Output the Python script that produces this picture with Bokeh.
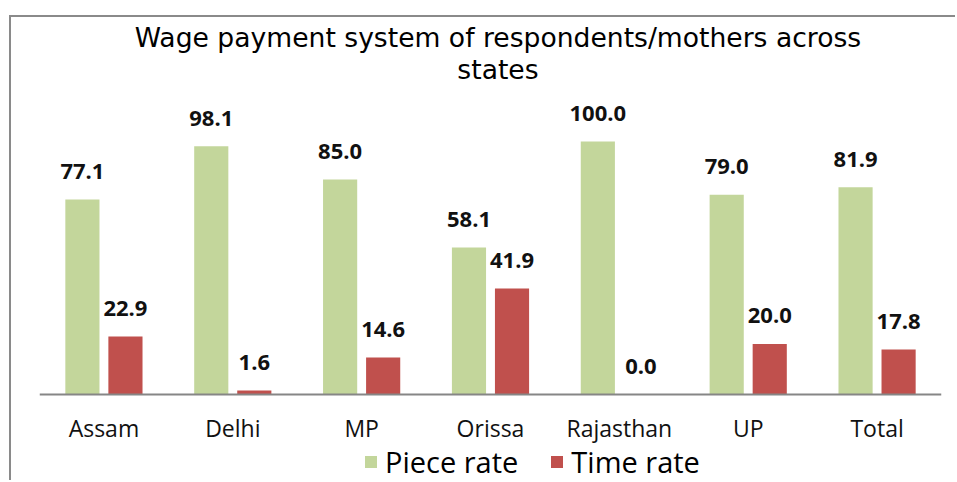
from bokeh.plotting import figure
from bokeh.models import ColumnDataSource, Label, Legend, LegendItem, FactorRange, Span
from bokeh.transform import dodge
from bokeh.core.properties import value
from bokeh.embed import file_html
from bokeh.resources import INLINE

states = ["Assam", "Delhi", "MP", "Orissa", "Rajasthan", "UP", "Total"]
piece_rate = [77.1, 98.1, 85.0, 58.1, 100.0, 79.0, 81.9]
time_rate = [22.9, 1.6, 14.6, 41.9, 0.0, 20.0, 17.8]
series_names = ["Piece rate", "Time rate"]
title_lines = ["Wage payment system of respondents/mothers across", "states"]

GREEN = "#C3D69B"
RED = "#C0504D"

src = ColumnDataSource(dict(
    state=states,
    piece=piece_rate,
    time=time_rate,
    zero=[0.0] * len(states),
    piece_lbl=["%.1f" % v for v in piece_rate],
    time_lbl=["%.1f" % v for v in time_rate],
))

PX = 2.53            # pixels per unit
Y_END = 377 / PX
Y_START = -88 / PX
p = figure(
    x_range=FactorRange(*states, range_padding=0),
    y_range=(Y_START, Y_END),
    width=946, height=465,
    output_backend="svg", toolbar_location=None,
    min_border_left=28, min_border_right=16, min_border_top=0, min_border_bottom=0,
    x_axis_location=None, y_axis_location=None,
)
p.styles = {
    "margin-left": "9px", "margin-top": "15px",
    "border-left": "2px solid #8a8a8a", "border-top": "2px solid #8a8a8a",
}
p.outline_line_color = None
p.xgrid.visible = False
p.ygrid.visible = False
p.background_fill_color = "white"
p.border_fill_color = "white"

off = 0.167
bw = 0.265
r1 = p.vbar(x=dodge("state", -off, range=p.x_range), top="piece", width=bw,
            source=src, fill_color=GREEN, line_color=None)
r2 = p.vbar(x=dodge("state", off, range=p.x_range), top="time", width=bw,
            source=src, fill_color=RED, line_color=None)

for col, o in (("piece", -off), ("time", off)):
    p.text(x=dodge("state", o, range=p.x_range), y=col, text=col + "_lbl", source=src,
           text_font=value("Open Sans"), text_font_style="bold", text_font_size="22px",
           text_color="#111111", text_align="center", text_baseline="alphabetic",
           y_offset=-28)

# category axis: baseline line plus category labels
p.add_layout(Span(location=0, dimension="width", line_color="#868686", line_width=2))
p.text(x="state", y="zero", text="state", source=src,
       text_font=value("Open Sans"), text_font_size="23px", text_color="#111111",
       text_align="center", text_baseline="alphabetic", y_offset=33)

for t, yb in zip(title_lines, [Y_END - 19.7 / PX, Y_END - 52 / PX]):
    p.add_layout(Label(x=3.558, y=yb, text=t, text_align="center", text_baseline="alphabetic",
                       text_font="DejaVu Sans", text_font_size="26.6px", text_color="#000000"))

legend = Legend(items=[LegendItem(label=series_names[0], renderers=[r1]),
                       LegendItem(label=series_names[1], renderers=[r2])],
                location=(324, 1), orientation="horizontal",
                glyph_width=15, glyph_height=15, label_standoff=7, spacing=31,
                padding=0, margin=0, border_line_color=None, background_fill_alpha=0,
                label_text_font="Open Sans", label_text_font_size="29px",
                label_text_color="#000000")
p.add_layout(legend, "center")

open("out.html", "w").write(file_html(p, INLINE))
